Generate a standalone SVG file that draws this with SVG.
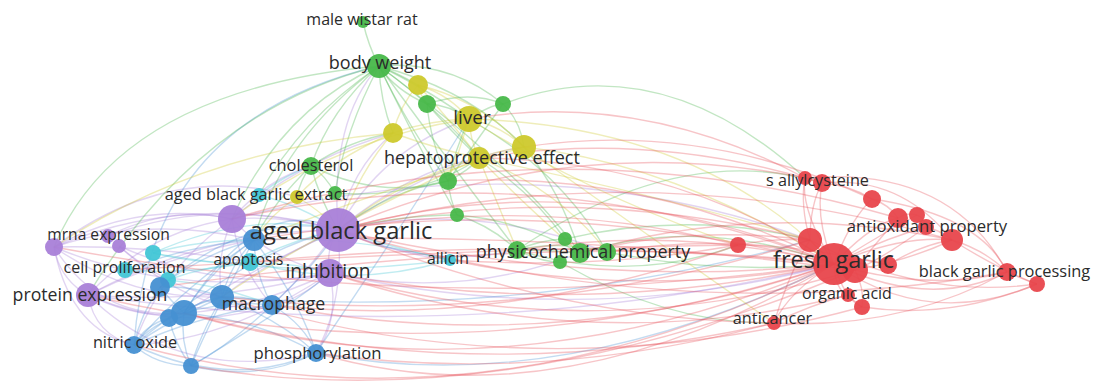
<svg xmlns="http://www.w3.org/2000/svg" width="1093" height="385" viewBox="0 0 1093 385">
<style>
text{font-family:"Open Sans","Liberation Sans",sans-serif;fill:#2b2b2b;text-anchor:middle}
#edges path{fill:none;stroke-width:1.4;stroke-opacity:.33}
.eg{stroke:#46b44a}.ey{stroke:#cfc92e}.ep{stroke:#a87ed8}.ec{stroke:#3fc6d6}.eb{stroke:#4a92d6}.er{stroke:#e85058}
.ng{fill:#48b84a}.ny{fill:#cdc92c}.np{fill:#a97fd8}.nc{fill:#42c6d6}.nb{fill:#4690d2}.nr{fill:#e8464c}
circle{fill-opacity:.95}
</style>
<rect width="1093" height="385" fill="#ffffff"/>
<g id="edges">
<!-- purple -->
<path class="ep" d="M54,247 Q190,190 338,230"/>
<path class="ep" d="M54,247 Q140,200 232,219"/>
<path class="ep" d="M54,247 Q180,300 330,273"/>
<path class="ep" d="M54,247 Q150,215 254,240"/>
<path class="ep" d="M54,247 Q130,300 222,297"/>
<path class="ep" d="M54,247 Q100,320 184,313"/>
<path class="ep" d="M54,247 Q150,245 250,262"/>
<path class="ep" d="M54,247 Q60,280 88,295"/>
<path class="ep" d="M54,247 Q70,330 134,345"/>
<path class="ep" d="M54,247 Q170,160 297,197"/>
<path class="ep" d="M108,236 Q220,195 338,230"/>
<path class="ep" d="M108,236 Q170,205 232,219"/>
<path class="ep" d="M119,246 Q230,295 330,273"/>
<path class="ep" d="M119,246 Q170,290 222,297"/>
<path class="ep" d="M119,246 Q200,320 272,305"/>
<path class="ep" d="M88,295 Q210,230 338,230"/>
<path class="ep" d="M88,295 Q150,230 232,219"/>
<path class="ep" d="M88,295 Q210,305 330,273"/>
<path class="ep" d="M88,295 Q180,335 272,305"/>
<path class="ep" d="M88,295 Q180,385 316,353"/>
<path class="ep" d="M88,295 Q95,335 134,345"/>
<path class="ep" d="M88,295 Q140,320 184,313"/>
<path class="ep" d="M88,295 Q170,255 254,240"/>
<path class="ep" d="M232,219 Q285,215 338,230"/>
<path class="ep" d="M232,219 Q270,260 330,273"/>
<path class="ep" d="M232,219 Q215,260 222,297"/>
<path class="ep" d="M232,219 Q240,270 272,305"/>
<path class="ep" d="M232,219 Q160,270 134,345"/>
<path class="ep" d="M232,219 Q300,160 393,133"/>
<path class="ep" d="M232,219 Q265,180 311,166"/>
<path class="ep" d="M338,230 Q325,250 330,273"/>
<path class="ep" d="M338,230 Q300,280 272,305"/>
<path class="ep" d="M338,230 Q270,260 222,297"/>
<path class="ep" d="M338,230 Q250,270 184,313"/>
<path class="ep" d="M338,230 Q345,300 316,353"/>
<path class="ep" d="M338,230 Q380,150 469,119"/>
<path class="ep" d="M338,230 Q410,170 479,158"/>
<path class="ep" d="M338,230 Q440,160 524,147"/>
<path class="ep" d="M338,230 Q350,170 393,133"/>
<path class="ep" d="M338,230 Q330,120 379,66"/>
<path class="ep" d="M338,230 Q430,270 517,250"/>
<path class="ep" d="M338,230 Q470,200 607,252"/>
<path class="ep" d="M338,230 Q400,255 450,260"/>
<path class="ep" d="M330,273 Q340,320 316,353"/>
<path class="ep" d="M330,273 Q300,300 272,305"/>
<path class="ep" d="M330,273 Q250,310 184,313"/>
<path class="ep" d="M330,273 Q230,340 134,345"/>
<path class="ep" d="M330,273 Q460,300 580,253"/>
<path class="ep" d="M330,273 Q590,330 834,264"/>
<path class="ep" d="M232,219 Q540,140 810,240"/>
<path class="ep" d="M88,295 Q470,350 834,264"/>
<!-- blue -->
<path class="eb" d="M254,240 Q230,265 222,297"/>
<path class="eb" d="M254,240 Q255,275 272,305"/>
<path class="eb" d="M254,240 Q200,255 160,287"/>
<path class="eb" d="M254,240 Q210,270 184,313"/>
<path class="eb" d="M254,240 Q180,290 134,345"/>
<path class="eb" d="M254,240 Q215,310 191,366"/>
<path class="eb" d="M254,240 Q300,300 316,353"/>
<path class="eb" d="M254,240 Q190,245 125,270"/>
<path class="eb" d="M222,297 Q200,300 184,313"/>
<path class="eb" d="M222,297 Q190,305 169,318"/>
<path class="eb" d="M222,297 Q170,320 134,345"/>
<path class="eb" d="M222,297 Q200,335 191,366"/>
<path class="eb" d="M222,297 Q280,320 316,353"/>
<path class="eb" d="M222,297 Q245,295 272,305"/>
<path class="eb" d="M272,305 Q305,325 316,353"/>
<path class="eb" d="M272,305 Q230,300 184,313"/>
<path class="eb" d="M272,305 Q200,315 134,345"/>
<path class="eb" d="M272,305 Q230,345 191,366"/>
<path class="eb" d="M160,287 Q170,300 184,313"/>
<path class="eb" d="M160,287 Q140,315 134,345"/>
<path class="eb" d="M160,287 Q190,285 222,297"/>
<path class="eb" d="M184,313 Q150,325 134,345"/>
<path class="eb" d="M184,313 Q180,340 191,366"/>
<path class="eb" d="M184,313 Q260,320 316,353"/>
<path class="eb" d="M169,318 Q175,345 191,366"/>
<path class="eb" d="M169,318 Q145,325 134,345"/>
<path class="eb" d="M134,345 Q230,390 316,353"/>
<path class="eb" d="M191,366 Q260,382 316,353"/>
<path class="eb" d="M134,345 Q155,365 191,366"/>
<path class="eb" d="M316,353 Q400,230 469,119"/>
<path class="eb" d="M134,345 Q150,120 379,66"/>
<path class="eb" d="M184,313 Q260,190 338,230"/>
<path class="eb" d="M160,287 Q250,210 338,230"/>
<path class="eb" d="M272,305 Q320,260 338,230"/>
<path class="eb" d="M134,345 Q250,250 338,230"/>
<path class="eb" d="M191,366 Q300,300 330,273"/>
<path class="eb" d="M316,353 Q560,400 834,264"/>
<path class="eb" d="M222,297 Q530,320 810,240"/>
<!-- cyan -->
<path class="ec" d="M153,253 Q250,210 338,230"/>
<path class="ec" d="M153,253 Q200,240 254,240"/>
<path class="ec" d="M153,253 Q200,265 250,262"/>
<path class="ec" d="M125,270 Q190,275 250,262"/>
<path class="ec" d="M168,280 Q220,285 272,305"/>
<path class="ec" d="M168,280 Q250,250 330,273"/>
<path class="ec" d="M250,262 Q290,240 338,230"/>
<path class="ec" d="M450,260 Q400,250 338,230"/>
<path class="ec" d="M450,260 Q350,235 254,240"/>
<path class="ec" d="M259,195 Q300,205 338,230"/>
<path class="ec" d="M259,195 Q285,175 311,166"/>
<path class="ec" d="M250,262 Q350,290 450,260"/>
<path class="ec" d="M153,253 Q300,280 450,260"/>
<!-- green -->
<path class="eg" d="M363,22 Q368,45 379,66"/>
<path class="eg" d="M379,66 Q395,90 427,104"/>
<path class="eg" d="M379,66 Q450,60 503,104"/>
<path class="eg" d="M379,66 Q395,72 418,85"/>
<path class="eg" d="M379,66 Q420,85 469,119"/>
<path class="eg" d="M379,66 Q380,100 393,133"/>
<path class="eg" d="M379,66 Q440,110 479,158"/>
<path class="eg" d="M379,66 Q330,110 311,166"/>
<path class="eg" d="M379,66 Q410,130 448,181"/>
<path class="eg" d="M379,66 Q345,130 335,193"/>
<path class="eg" d="M379,66 Q420,150 457,215"/>
<path class="eg" d="M379,66 Q470,90 524,147"/>
<path class="eg" d="M379,66 Q300,120 259,195"/>
<path class="eg" d="M379,66 Q280,110 232,219"/>
<path class="eg" d="M379,66 Q280,140 254,240"/>
<path class="eg" d="M379,66 Q120,90 54,247"/>
<path class="eg" d="M379,66 Q200,110 88,295"/>
<path class="eg" d="M379,66 Q470,190 517,250"/>
<path class="eg" d="M379,66 Q520,170 580,253"/>
<path class="eg" d="M503,104 Q660,45 805,178"/>
<path class="eg" d="M503,104 Q490,105 469,119"/>
<path class="eg" d="M503,104 Q520,120 524,147"/>
<path class="eg" d="M503,104 Q470,90 427,104"/>
<path class="eg" d="M503,104 Q470,150 448,181"/>
<path class="eg" d="M427,104 Q450,105 469,119"/>
<path class="eg" d="M427,104 Q450,130 479,158"/>
<path class="eg" d="M427,104 Q430,140 448,181"/>
<path class="eg" d="M311,166 Q320,200 338,230"/>
<path class="eg" d="M311,166 Q325,175 335,193"/>
<path class="eg" d="M311,166 Q350,140 393,133"/>
<path class="eg" d="M311,166 Q300,180 297,197"/>
<path class="eg" d="M311,166 Q275,200 254,240"/>
<path class="eg" d="M311,166 Q380,200 448,181"/>
<path class="eg" d="M448,181 Q455,150 469,119"/>
<path class="eg" d="M448,181 Q470,170 479,158"/>
<path class="eg" d="M448,181 Q450,200 457,215"/>
<path class="eg" d="M448,181 Q390,190 338,230"/>
<path class="eg" d="M457,215 Q490,225 517,250"/>
<path class="eg" d="M457,215 Q400,215 338,230"/>
<path class="eg" d="M457,215 Q520,220 580,253"/>
<path class="eg" d="M517,250 Q550,250 580,253"/>
<path class="eg" d="M517,250 Q540,240 565,239"/>
<path class="eg" d="M517,250 Q540,262 560,262"/>
<path class="eg" d="M517,250 Q560,240 607,252"/>
<path class="eg" d="M580,253 Q700,215 834,264"/>
<path class="eg" d="M607,252 Q720,275 834,264"/>
<path class="eg" d="M517,250 Q630,285 738,245"/>
<path class="eg" d="M565,239 Q690,210 810,240"/>
<path class="eg" d="M560,262 Q670,325 774,323"/>
<path class="eg" d="M580,253 Q560,190 524,147"/>
<path class="eg" d="M565,239 Q530,190 479,158"/>
<path class="eg" d="M607,252 Q560,170 469,119"/>
<path class="eg" d="M335,193 Q420,200 479,158"/>
<path class="eg" d="M517,250 Q680,140 822,183"/>
<!-- yellow -->
<path class="ey" d="M418,85 Q450,95 469,119"/>
<path class="ey" d="M418,85 Q400,105 393,133"/>
<path class="ey" d="M418,85 Q480,100 524,147"/>
<path class="ey" d="M418,85 Q450,120 479,158"/>
<path class="ey" d="M418,85 Q420,95 427,104"/>
<path class="ey" d="M469,119 Q430,120 393,133"/>
<path class="ey" d="M469,119 Q500,125 524,147"/>
<path class="ey" d="M469,119 Q470,140 479,158"/>
<path class="ey" d="M469,119 Q460,150 448,181"/>
<path class="ey" d="M393,133 Q440,150 479,158"/>
<path class="ey" d="M393,133 Q330,160 297,197"/>
<path class="ey" d="M393,133 Q360,170 338,230"/>
<path class="ey" d="M524,147 Q500,150 479,158"/>
<path class="ey" d="M524,147 Q680,165 834,264"/>
<path class="ey" d="M469,119 Q700,125 834,264"/>
<path class="ey" d="M479,158 Q680,200 810,240"/>
<path class="ey" d="M479,158 Q400,180 338,230"/>
<path class="ey" d="M479,158 Q500,210 517,250"/>
<path class="ey" d="M479,158 Q530,210 580,253"/>
<path class="ey" d="M479,158 Q560,190 607,252"/>
<path class="ey" d="M297,197 Q320,210 338,230"/>
<path class="ey" d="M297,197 Q270,215 254,240"/>
<path class="ey" d="M469,119 Q330,140 232,219"/>
<path class="ey" d="M479,158 Q320,230 222,297"/>
<path class="ey" d="M524,147 Q380,190 254,240"/>
<path class="ey" d="M393,133 Q200,150 54,247"/>
<path class="ey" d="M469,119 Q600,200 738,245"/>
<path class="ey" d="M524,147 Q640,230 774,323"/>
<!-- red -->
<path class="er" d="M834,264 Q590,160 338,230"/>
<path class="er" d="M834,264 Q590,290 338,230"/>
<path class="er" d="M834,264 Q540,150 232,219"/>
<path class="er" d="M834,264 Q540,190 254,240"/>
<path class="er" d="M834,264 Q540,235 250,262"/>
<path class="er" d="M834,264 Q580,320 330,273"/>
<path class="er" d="M834,264 Q560,360 272,305"/>
<path class="er" d="M834,264 Q560,425 316,353"/>
<path class="er" d="M834,264 Q480,440 134,345"/>
<path class="er" d="M834,264 Q470,385 88,295"/>
<path class="er" d="M834,264 Q450,320 54,247"/>
<path class="er" d="M834,264 Q500,405 184,313"/>
<path class="er" d="M834,264 Q640,300 450,260"/>
<path class="er" d="M834,264 Q680,225 517,250"/>
<path class="er" d="M834,264 Q680,160 479,158"/>
<path class="er" d="M834,264 Q650,170 448,181"/>
<path class="er" d="M834,264 Q560,230 160,287"/>
<path class="er" d="M810,240 Q570,180 338,230"/>
<path class="er" d="M810,240 Q520,330 222,297"/>
<path class="er" d="M810,240 Q690,225 580,253"/>
<path class="er" d="M855,270 Q590,350 330,273"/>
<path class="er" d="M855,270 Q550,230 254,240"/>
<path class="er" d="M855,270 Q500,420 191,366"/>
<path class="er" d="M738,245 Q540,195 338,230"/>
<path class="er" d="M738,245 Q500,330 272,305"/>
<path class="er" d="M738,245 Q600,270 450,260"/>
<path class="er" d="M738,245 Q420,250 125,270"/>
<path class="er" d="M774,323 Q560,320 338,230"/>
<path class="er" d="M774,323 Q480,390 184,313"/>
<path class="er" d="M774,323 Q540,385 316,353"/>
<path class="er" d="M848,295 Q590,360 330,273"/>
<path class="er" d="M862,307 Q540,395 222,297"/>
<path class="er" d="M805,178 Q570,130 338,230"/>
<path class="er" d="M805,178 Q640,90 469,119"/>
<path class="er" d="M822,183 Q650,130 479,158"/>
<path class="er" d="M952,240 Q640,150 338,230"/>
<path class="er" d="M952,240 Q760,200 580,253"/>
<path class="er" d="M898,218 Q560,120 232,219"/>
<path class="er" d="M872,199 Q700,120 524,147"/>
<path class="er" d="M888,265 Q740,230 607,252"/>
<path class="er" d="M1007,272 Q680,330 338,230"/>
<path class="er" d="M834,264 Q820,250 810,240"/>
<path class="er" d="M834,264 Q845,270 855,270"/>
<path class="er" d="M834,264 Q860,255 888,265"/>
<path class="er" d="M834,264 Q785,245 738,245"/>
<path class="er" d="M834,264 Q800,210 805,178"/>
<path class="er" d="M834,264 Q815,220 822,183"/>
<path class="er" d="M834,264 Q850,220 872,199"/>
<path class="er" d="M834,264 Q870,225 898,218"/>
<path class="er" d="M834,264 Q880,235 917,215"/>
<path class="er" d="M834,264 Q880,240 926,227"/>
<path class="er" d="M834,264 Q900,235 952,240"/>
<path class="er" d="M834,264 Q930,310 1007,272"/>
<path class="er" d="M834,264 Q930,330 1037,284"/>
<path class="er" d="M834,264 Q835,290 848,295"/>
<path class="er" d="M834,264 Q845,300 862,307"/>
<path class="er" d="M834,264 Q790,290 774,323"/>
<path class="er" d="M810,240 Q810,205 822,183"/>
<path class="er" d="M810,240 Q800,205 805,178"/>
<path class="er" d="M855,270 Q910,260 952,240"/>
<path class="er" d="M855,270 Q940,290 1007,272"/>
<path class="er" d="M888,265 Q920,245 952,240"/>
<path class="er" d="M822,183 Q850,185 872,199"/>
<path class="er" d="M872,199 Q890,205 898,218"/>
<path class="er" d="M898,218 Q908,212 917,215"/>
<path class="er" d="M917,215 Q925,218 926,227"/>
<path class="er" d="M926,227 Q940,230 952,240"/>
<path class="er" d="M952,240 Q985,250 1007,272"/>
<path class="er" d="M1007,272 Q1025,280 1037,284"/>
<path class="er" d="M952,240 Q1000,270 1037,284"/>
<path class="er" d="M805,178 Q812,178 822,183"/>
<path class="er" d="M855,270 Q865,290 862,307"/>
<path class="er" d="M848,295 Q855,302 862,307"/>
<path class="er" d="M774,323 Q810,305 848,295"/>
<path class="er" d="M738,245 Q770,238 810,240"/>
<path class="er" d="M822,183 Q900,175 952,240"/>
<path class="er" d="M872,199 Q980,215 1007,272"/>
<path class="er" d="M805,178 Q950,165 1007,272"/>
<path class="er" d="M810,240 Q920,300 1037,284"/>
<path class="er" d="M774,323 Q900,330 1007,272"/>
<path class="er" d="M862,307 Q950,320 1037,284"/>
<path class="er" d="M898,218 Q870,250 855,270"/>
<path class="er" d="M774,323 Q790,270 810,240"/>
<path class="er" d="M926,227 Q880,260 855,270"/>
</g>
<g id="nodes">
<!-- unlabeled nodes -->
<g id="n-g3"><circle class="ng" cx="427" cy="104" r="9"/></g>
<g id="n-g4"><circle class="ng" cx="503" cy="104" r="8"/></g>
<g id="n-g6"><circle class="ng" cx="448" cy="181" r="9"/></g>
<g id="n-g7"><circle class="ng" cx="335" cy="193" r="7"/></g>
<g id="n-g8"><circle class="ng" cx="457" cy="215" r="7"/></g>
<g id="n-g10"><circle class="ng" cx="565" cy="239" r="7"/></g>
<g id="n-g11"><circle class="ng" cx="580" cy="253" r="10"/></g>
<g id="n-g12"><circle class="ng" cx="560" cy="262" r="7"/></g>
<g id="n-g13"><circle class="ng" cx="607" cy="252" r="9"/></g>
<g id="n-y1"><circle class="ny" cx="418" cy="85" r="10"/></g>
<g id="n-y3"><circle class="ny" cx="393" cy="133" r="10"/></g>
<g id="n-y4"><circle class="ny" cx="524" cy="147" r="12"/></g>
<g id="n-y6"><circle class="ny" cx="297" cy="197" r="7"/></g>
<g id="n-p2"><circle class="np" cx="232" cy="219" r="14"/></g>
<g id="n-p5"><circle class="np" cx="108" cy="236" r="7"/></g>
<g id="n-p6"><circle class="np" cx="119" cy="246" r="7"/></g>
<g id="n-c1"><circle class="nc" cx="153" cy="253" r="8"/></g>
<g id="n-c3"><circle class="nc" cx="168" cy="280" r="8"/></g>
<g id="n-c6"><circle class="nc" cx="259" cy="195" r="7"/></g>
<g id="n-b1"><circle class="nb" cx="254" cy="240" r="11"/></g>
<g id="n-b2"><circle class="nb" cx="222" cy="297" r="12"/></g>
<g id="n-b4"><circle class="nb" cx="160" cy="287" r="10"/></g>
<g id="n-b6"><circle class="nb" cx="169" cy="318" r="9"/></g>
<g id="n-b5"><circle class="nb" cx="184" cy="313" r="13"/></g>
<g id="n-b8"><circle class="nb" cx="191" cy="366" r="8"/></g>
<g id="n-r2"><circle class="nr" cx="810" cy="240" r="12"/></g>
<g id="n-r4"><circle class="nr" cx="888" cy="265" r="9"/></g>
<g id="n-r5"><circle class="nr" cx="738" cy="245" r="8"/></g>
<g id="n-r6"><circle class="nr" cx="805" cy="178" r="7"/></g>
<g id="n-r8"><circle class="nr" cx="872" cy="199" r="9"/></g>
<g id="n-r9"><circle class="nr" cx="898" cy="218" r="10"/></g>
<g id="n-r10"><circle class="nr" cx="917" cy="215" r="8"/></g>
<g id="n-r11"><circle class="nr" cx="926" cy="227" r="8"/></g>
<g id="n-r12"><circle class="nr" cx="952" cy="240" r="11"/></g>
<g id="n-r14"><circle class="nr" cx="1037" cy="284" r="8"/></g>
<g id="n-r16"><circle class="nr" cx="862" cy="307" r="8"/></g>
<g id="n-r3"><circle class="nr" cx="855" cy="270" r="13"/></g>
<!-- labeled nodes -->
<g id="n-male-wistar-rat"><circle class="ng" cx="363" cy="22" r="6"/><text x="362" y="25" font-size="16">male wistar rat</text></g>
<g id="n-body-weight"><circle class="ng" cx="379" cy="66" r="12"/><text x="380" y="69" font-size="18">body weight</text></g>
<g id="n-liver"><circle class="ny" cx="469" cy="119" r="13"/><text x="472" y="124" font-size="19">liver</text></g>
<g id="n-hepatoprotective-effect"><circle class="ny" cx="479" cy="158" r="11"/><text x="482" y="164" font-size="18">hepatoprotective effect</text></g>
<g id="n-cholesterol"><circle class="ng" cx="311" cy="166" r="9"/><text x="311" y="171" font-size="16.4">cholesterol</text></g>
<g id="n-aged-black-garlic-extract"><text x="256" y="200" font-size="16.3">aged black garlic extract</text></g>
<g id="n-mrna-expression"><circle class="np" cx="54" cy="247" r="9"/><text x="108.5" y="240" font-size="15.6">mrna expression</text></g>
<g id="n-cell-proliferation"><circle class="nc" cx="125" cy="270" r="8"/><text x="124.5" y="273" font-size="16">cell proliferation</text></g>
<g id="n-protein-expression"><circle class="np" cx="88" cy="295" r="12"/><text x="90" y="301" font-size="17.7">protein expression</text></g>
<g id="n-nitric-oxide"><circle class="nb" cx="134" cy="345" r="9"/><text x="135" y="348" font-size="16.3">nitric oxide</text></g>
<g id="n-apoptosis"><circle class="nc" cx="250" cy="262" r="9"/><text x="248.5" y="265" font-size="15.4">apoptosis</text></g>
<g id="n-macrophage"><circle class="nb" cx="272" cy="305" r="10"/><text x="273.5" y="310" font-size="17.7">macrophage</text></g>
<g id="n-phosphorylation"><circle class="nb" cx="316" cy="353" r="9"/><text x="317.5" y="359" font-size="16.7">phosphorylation</text></g>
<g id="n-aged-black-garlic"><circle class="np" cx="338" cy="230" r="22"/><text x="341" y="239" font-size="23.7">aged black garlic</text></g>
<g id="n-inhibition"><circle class="np" cx="330" cy="273" r="14"/><text x="328" y="278" font-size="19.3">inhibition</text></g>
<g id="n-allicin"><circle class="nc" cx="450" cy="260" r="6"/><text x="448" y="264" font-size="15.8">allicin</text></g>
<g id="n-physicochemical-property"><circle class="ng" cx="517" cy="250" r="9"/><text x="583" y="258" font-size="17.9">physicochemical property</text></g>
<g id="n-s-allylcysteine"><circle class="nr" cx="822" cy="183" r="9"/><text x="817.5" y="186" font-size="16.2">s allylcysteine</text></g>
<g id="n-antioxidant-property"><text x="927" y="232" font-size="16.7">antioxidant property</text></g>
<g id="n-fresh-garlic"><circle class="nr" cx="834" cy="264" r="21"/><text x="833.5" y="268" font-size="23.5">fresh garlic</text></g>
<g id="n-black-garlic-processing"><circle class="nr" cx="1007" cy="272" r="9"/><text x="1004.5" y="277" font-size="16.4">black garlic processing</text></g>
<g id="n-organic-acid"><circle class="nr" cx="848" cy="295" r="7"/><text x="847" y="299" font-size="16">organic acid</text></g>
<g id="n-anticancer"><circle class="nr" cx="774" cy="323" r="7"/><text x="772.5" y="324" font-size="16.3">anticancer</text></g>
</g>
</svg>
